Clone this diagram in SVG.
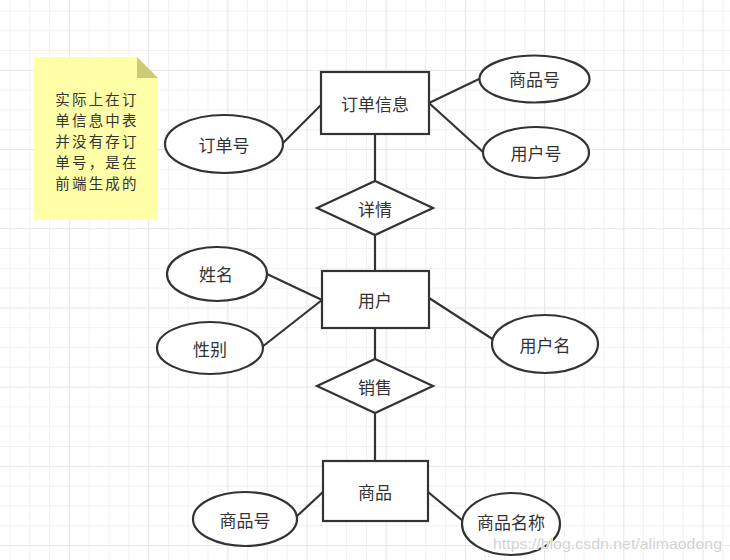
<svg xmlns="http://www.w3.org/2000/svg" width="730" height="560" viewBox="0 0 730 560">
<defs>
<pattern id="grid" patternUnits="userSpaceOnUse" x="9.5" y="10.4" width="79.2" height="79.2">
<path d="M0.5 0V79.2M20.3 0V79.2M40.1 0V79.2M0 0.5H79.2M0 20.3H79.2M0 40.1H79.2" stroke="#f1f1f1" stroke-width="1" fill="none"/>
<path d="M59.9 0V79.2M0 59.9H79.2" stroke="#e6e6e6" stroke-width="1.2" fill="none"/>
</pattern>
<style>
.shape{fill:#fff;stroke:#333;stroke-width:2.2}
.edge{stroke:#333;stroke-width:2.2;fill:none}
.lbl{font-family:"Noto Sans CJK SC","Microsoft YaHei",sans-serif;font-size:17px;fill:#333;text-anchor:middle;dominant-baseline:central}
.note{font-family:"Noto Sans CJK SC","Microsoft YaHei",sans-serif;font-size:14.5px;letter-spacing:2.2px;fill:#333;text-anchor:middle;dominant-baseline:central}
.wm{font-family:"Liberation Sans",Arial,sans-serif;font-size:15px;fill:#d2d2d2;stroke:#ffffff;stroke-width:1.5;paint-order:stroke}
</style>
</defs>
<rect width="730" height="560" fill="#fff"/>
<rect width="730" height="560" fill="url(#grid)"/>

<g id="edges">
<line class="edge" x1="375" y1="134" x2="375" y2="181"/>
<line class="edge" x1="375" y1="235" x2="375" y2="271"/>
<line class="edge" x1="375" y1="328" x2="375" y2="359"/>
<line class="edge" x1="375" y1="413" x2="375" y2="461"/>
<line class="edge" x1="283" y1="143" x2="321" y2="105"/>
<line class="edge" x1="429" y1="103" x2="479" y2="79"/>
<line class="edge" x1="429" y1="103" x2="483" y2="152"/>
<line class="edge" x1="267" y1="274" x2="322" y2="300"/>
<line class="edge" x1="262" y1="347" x2="322" y2="300"/>
<line class="edge" x1="429" y1="298" x2="494" y2="340"/>
<line class="edge" x1="296" y1="517" x2="323" y2="492"/>
<line class="edge" x1="428" y1="492" x2="463" y2="521"/>
</g>

<g id="note">
<path d="M34 57H137L158 78V220H34Z" fill="#ffffa8"/>
<path d="M137 57L158 78H137Z" fill="#cccc77"/>
<text class="note"><tspan x="97" y="98">实际上在订</tspan><tspan x="97" y="119">单信息中表</tspan><tspan x="97" y="140">并没有存订</tspan><tspan x="97" y="161">单号，是在</tspan><tspan x="97" y="182">前端生成的</tspan></text>
</g>

<g id="order">
<rect class="shape" x="321" y="72" width="108" height="62"/>
<text class="lbl" x="375" y="103">订单信息</text>
</g>
<g id="order-no">
<ellipse class="shape" cx="224" cy="144" rx="59" ry="29"/>
<text class="lbl" x="224" y="144">订单号</text>
</g>
<g id="order-goods-no">
<ellipse class="shape" cx="534.5" cy="79" rx="55" ry="23.5"/>
<text class="lbl" x="534.5" y="78">商品号</text>
</g>
<g id="order-user-no">
<ellipse class="shape" cx="536" cy="152.5" rx="53" ry="25.5"/>
<text class="lbl" x="536" y="152.5">用户号</text>
</g>
<g id="detail">
<path class="shape" d="M375 181L433 208L375 235L317 208Z"/>
<text class="lbl" x="375" y="208">详情</text>
</g>
<g id="user">
<rect class="shape" x="322" y="271" width="107" height="57"/>
<text class="lbl" x="375" y="299">用户</text>
</g>
<g id="user-name">
<ellipse class="shape" cx="217" cy="274" rx="50" ry="27"/>
<text class="lbl" x="216" y="273">姓名</text>
</g>
<g id="user-gender">
<ellipse class="shape" cx="210" cy="348" rx="53" ry="26"/>
<text class="lbl" x="210" y="348">性别</text>
</g>
<g id="user-username">
<ellipse class="shape" cx="545" cy="344" rx="53" ry="29"/>
<text class="lbl" x="545" y="344">用户名</text>
</g>
<g id="sale">
<path class="shape" d="M375 359L433 386L375 413L317 386Z"/>
<text class="lbl" x="375" y="386">销售</text>
</g>
<g id="goods">
<rect class="shape" x="323" y="461" width="105" height="60"/>
<text class="lbl" x="375" y="491">商品</text>
</g>
<g id="goods-no">
<ellipse class="shape" cx="245" cy="519" rx="52" ry="27"/>
<text class="lbl" x="245" y="519">商品号</text>
</g>
<g id="goods-name">
<ellipse class="shape" cx="511" cy="524" rx="49" ry="31"/>
<text class="lbl" x="511" y="521.5">商品名称</text>
</g>
<text class="wm" x="493" y="549" textLength="229" lengthAdjust="spacingAndGlyphs">https://blog.csdn.net/alimaodong</text>
</svg>
